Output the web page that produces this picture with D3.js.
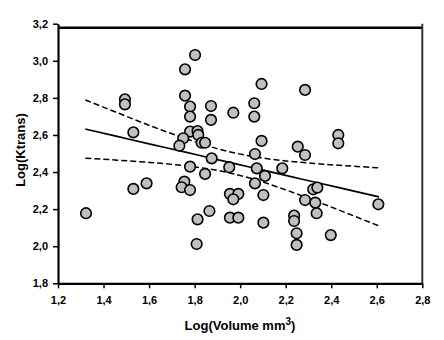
<!DOCTYPE html>
<html><head><meta charset="utf-8">
<script src="https://cdn.jsdelivr.net/npm/d3@7"></script>
<style>
html,body{margin:0;padding:0;background:#fff;}
svg{display:block;}
text{font-family:"Liberation Sans",Arial,sans-serif;font-weight:bold;}
</style></head><body>
<svg id="c" width="444" height="340"></svg>
<script>
// Scatter data: Log(Volume mm3) vs Log(Ktrans)
const xVals = [1.323,1.531,1.589,1.494,1.494,1.531,1.802,1.758,2.094,1.758,1.780,1.872,2.062,1.780,1.872,1.970,2.062,1.780,1.813,1.816,1.750,1.733,1.831,1.846,2.094,2.253,2.285,2.431,2.431,2.065,1.875,1.780,1.952,2.073,2.109,2.185,1.846,1.755,1.743,1.780,2.065,1.955,1.992,1.970,2.102,1.865,1.813,1.955,1.992,2.102,1.809,2.237,2.237,2.248,2.248,2.285,2.321,2.339,2.285,2.330,2.336,2.398,2.607];
const yVals = [2.178,2.309,2.339,2.792,2.765,2.614,3.031,2.954,2.875,2.812,2.753,2.756,2.771,2.699,2.681,2.720,2.699,2.618,2.621,2.600,2.582,2.542,2.558,2.558,2.568,2.537,2.843,2.600,2.555,2.497,2.474,2.429,2.426,2.420,2.379,2.420,2.390,2.348,2.318,2.303,2.339,2.282,2.282,2.253,2.276,2.190,2.145,2.154,2.154,2.127,2.012,2.165,2.136,2.070,2.007,2.492,2.307,2.316,2.249,2.235,2.178,2.060,2.226];

// Regression line and confidence band
const bandX     = [1.32, 1.45, 1.60, 1.75, 1.90, 2.05, 2.20, 2.35, 2.50, 2.61];
const fitY      = [2.632,2.595,2.552,2.510,2.467,2.425,2.382,2.340,2.297,2.266];
const upperY    = [2.789,2.725,2.652,2.585,2.526,2.485,2.460,2.444,2.431,2.423];
const lowerY    = [2.475,2.465,2.452,2.435,2.409,2.365,2.304,2.235,2.163,2.109];

const xTicks = [1.2,1.4,1.6,1.8,2.0,2.2,2.4,2.6,2.8];
const yTicks = [1.8,2.0,2.2,2.4,2.6,2.8,3.0,3.2];

const svg = d3.select("#c");
const x = d3.scaleLinear().domain([1.2,2.8]).range([58,422.3]);
const y = d3.scaleLinear().domain([1.8,3.2]).range([283.3,23.7]);
const fmt = d => d.toFixed(1).replace(".", ",");

// Y axis
const ya = svg.append("g").attr("transform","translate(58,0)")
  .call(d3.axisLeft(y).tickValues(yTicks).tickFormat(fmt).tickSize(5).tickPadding(5).tickSizeOuter(0));
ya.select(".domain").attr("stroke","#000").attr("stroke-width",2.2);
ya.selectAll(".tick line").attr("stroke","#000").attr("stroke-width",1.5);
ya.selectAll(".tick text").attr("font-size",11).attr("fill","#000").style("font-weight","bold");

// X axis
const xa = svg.append("g").attr("transform","translate(0,283.3)")
  .call(d3.axisBottom(x).tickValues(xTicks).tickFormat(fmt).tickSize(5).tickPadding(8).tickSizeOuter(0));
xa.select(".domain").attr("stroke","#000").attr("stroke-width",2.2);
xa.selectAll(".tick line").attr("stroke","#000").attr("stroke-width",1.5);
xa.selectAll(".tick text").attr("font-size",11).attr("fill","#000").style("font-weight","bold");

// Frame: top and right
svg.append("line").attr("x1",x(1.2)).attr("x2",x(2.8)).attr("y1",y(3.178)).attr("y2",y(3.178))
  .attr("stroke","#000").attr("stroke-width",2.5);
svg.append("line").attr("x1",x(2.8)).attr("x2",x(2.8)).attr("y1",y(3.2)).attr("y2",y(1.8))
  .attr("stroke","#333").attr("stroke-width",2);

// Regression + band
const lineFrom = arr => d3.line().x((d,i)=>x(bandX[i])).y(d=>y(d)).curve(d3.curveMonotoneX)(arr);
svg.append("path").attr("d",lineFrom(fitY)).attr("fill","none").attr("stroke","#000").attr("stroke-width",1.6);
[upperY, lowerY].forEach(a => {
  svg.append("path").attr("d",lineFrom(a)).attr("fill","none").attr("stroke","#000")
    .attr("stroke-width",1.5).attr("stroke-dasharray","6,3");
});

// Points
svg.append("g").selectAll("circle").data(xVals).join("circle")
  .attr("cx",d=>x(d)).attr("cy",(d,i)=>y(yVals[i])).attr("r",5.3)
  .attr("fill","#c0c0c0").attr("stroke","#000").attr("stroke-width",1.6);

// Titles
svg.append("text").attr("x",240).attr("y",330).attr("text-anchor","middle").attr("font-size",13)
  .html('Log(Volume mm<tspan dy="-5" font-size="10">3</tspan><tspan dy="5">)</tspan>');
svg.append("text").attr("transform","translate(25,150) rotate(-90)").attr("text-anchor","middle")
  .attr("font-size",13).text("Log(Ktrans)");
</script></body></html>
